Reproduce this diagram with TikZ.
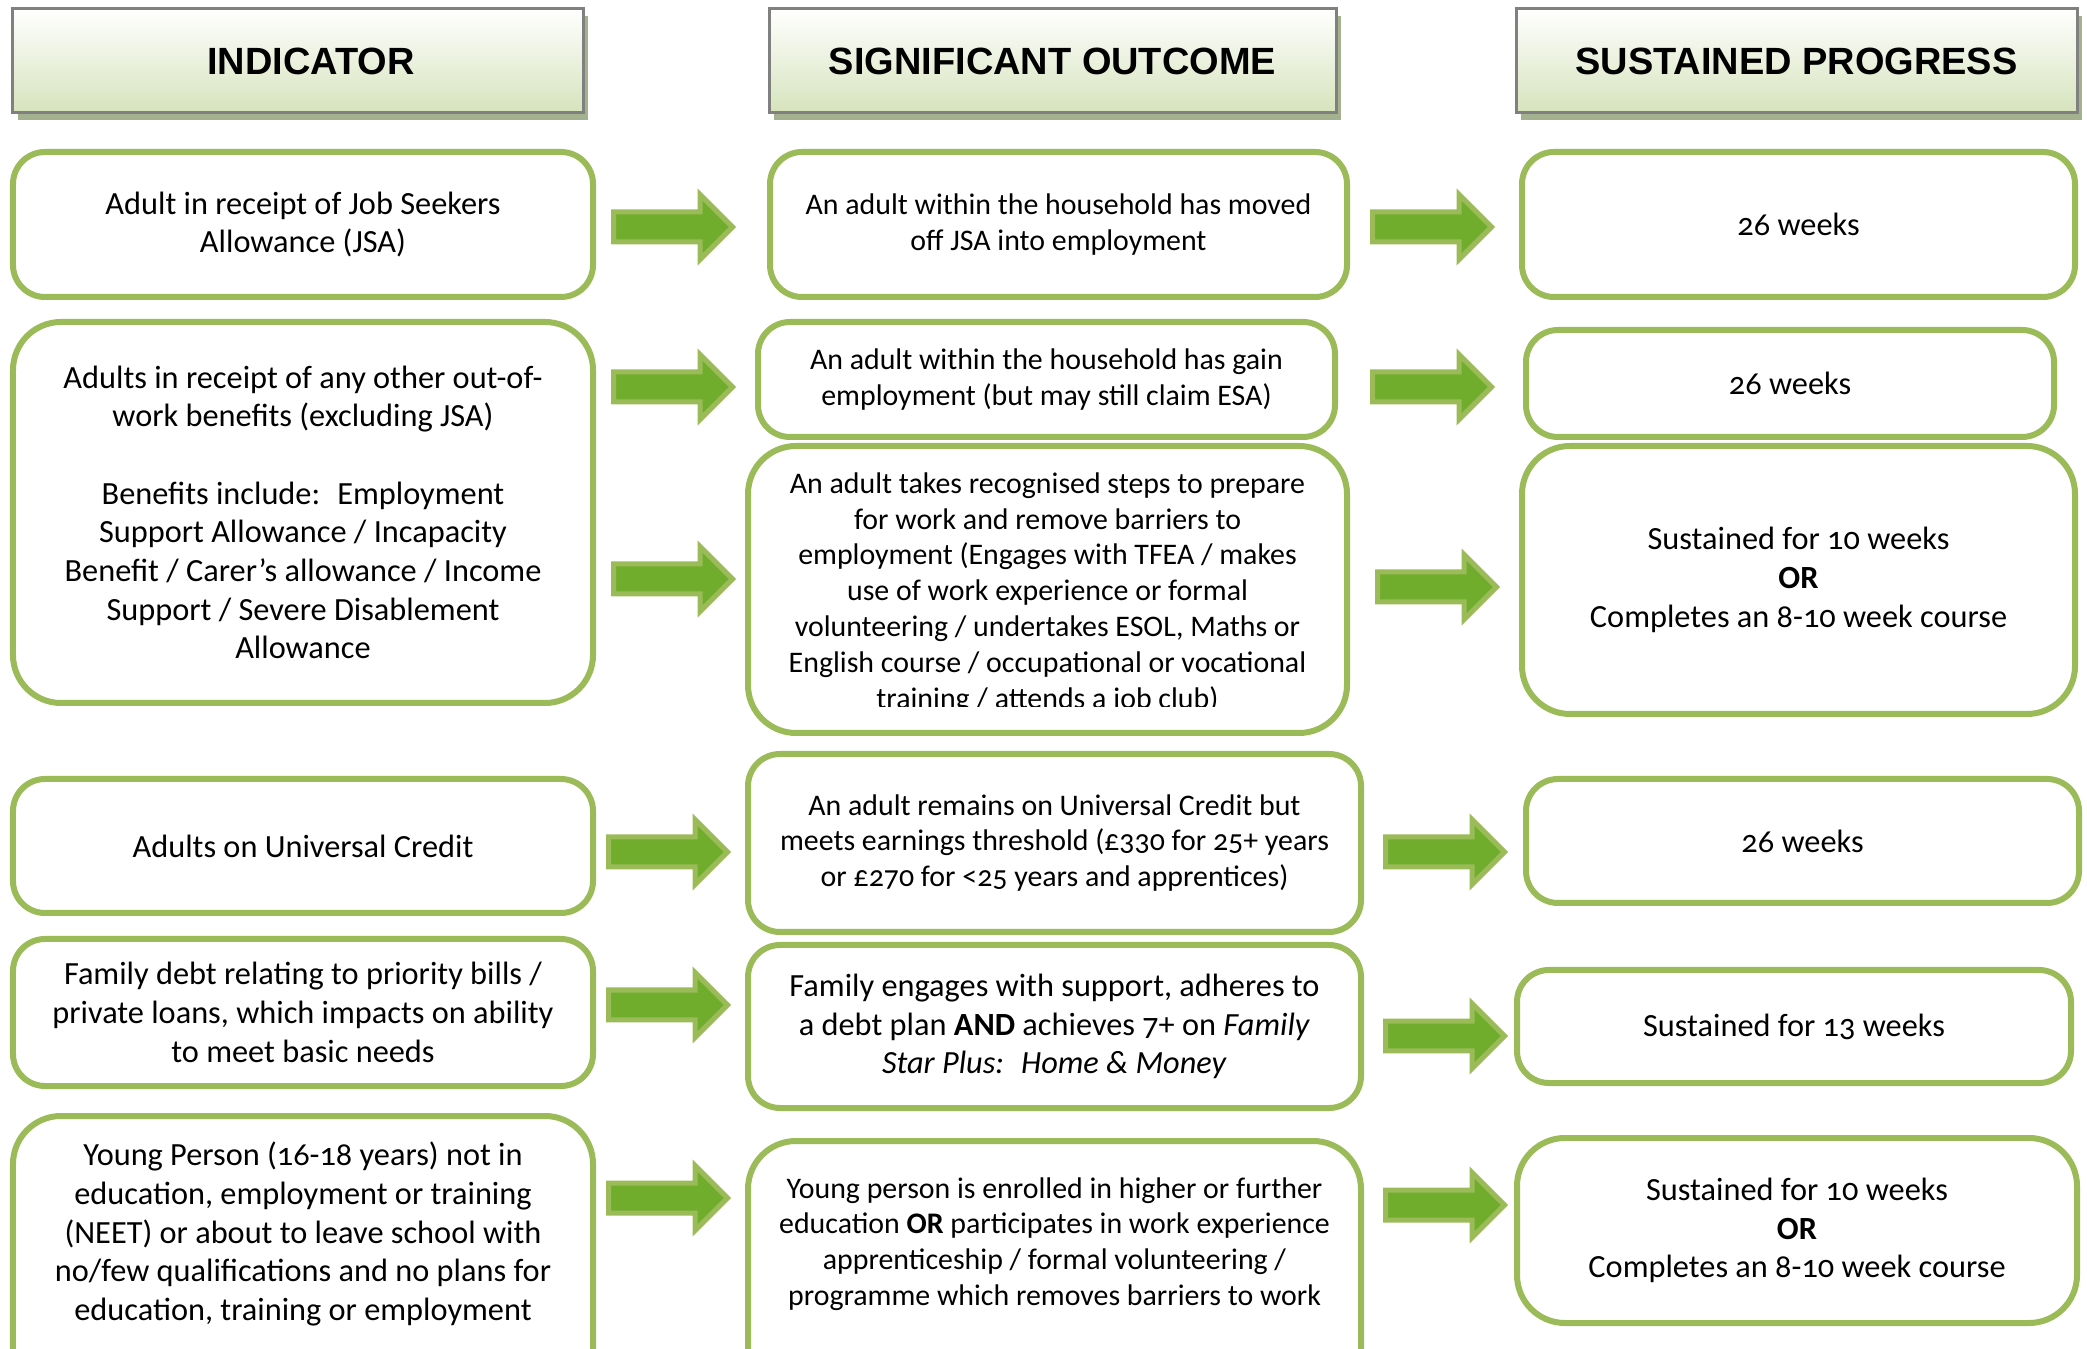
\documentclass[tikz,border=0pt]{standalone}
\usepackage{fontspec}
\setmainfont{Carlito}[Numbers=OldStyle]
\newfontfamily\headfont{Liberation Sans}
\usetikzlibrary{shadows}

\definecolor{boxgreen}{RGB}{155,187,89}
\definecolor{arrowgreen}{RGB}{112,173,45}
\definecolor{headgreen}{RGB}{214,227,188}
\definecolor{headgray}{RGB}{128,128,128}
\definecolor{shadowgreen}{RGB}{163,177,143}

\tikzset{
	headbox/.style={draw=headgray, line width=0.03cm, top color=white, bottom color=headgreen,
		drop shadow={shadow xshift=0.05cm, shadow yshift=-0.07cm, fill=shadowgreen, opacity=1},
		minimum height=1.04cm, inner sep=0pt, font=\headfont\bfseries\fontsize{10.8}{13}\selectfont},
	card/.style={draw=boxgreen, line width=0.06cm, fill=white, rounded corners=0.32cm,
		align=center, inner sep=0pt},
	bigcard/.style={card, rounded corners=0.48cm},
	bigtext/.style={align=center, inner sep=0pt, font=\fontsize{9.2}{11}\selectfont},
	smalltext/.style={align=center, inner sep=0pt, font=\fontsize{8.5}{10.2}\selectfont},
	arrowfill/.style={draw=boxgreen, fill=arrowgreen, line width=0.05cm, line join=miter}
}

\begin{document}
\begin{tikzpicture}[x=1cm, y=-1cm]

	\def\greenArrow#1#2{
		\draw[arrowfill] (#1+0.025,#2-0.15) -- ++(0.865,0) -- ++(0,-0.175) -- ++(0.325,0.325)
			-- ++(-0.325,0.325) -- ++(0,-0.175) -- ++(-0.865,0) -- cycle;
	}

	\useasboundingbox (0,0) rectangle (20.87,13.49);
	\clip (0,0) rectangle (20.87,13.49);

	% column heads
	\node[headbox, minimum width=5.70cm] (hind) at (2.98,0.61) {\hspace*{0.26cm}INDICATOR};
	\node[headbox, minimum width=5.67cm] (hout) at (10.525,0.61) {SIGNIFICANT OUTCOME};
	\node[headbox, minimum width=5.61cm] (hpro) at (17.965,0.61) {SUSTAINED PROGRESS};

	% indicators
	\node[card, bigtext, minimum width=5.80cm, minimum height=1.45cm] (jsa) at (3.03,2.245)
		{Adult in receipt of Job Seekers\\Allowance (JSA)};
	\node[bigcard, bigtext, minimum width=5.80cm, minimum height=3.81cm] (outwork) at (3.03,5.125)
		{Adults in receipt of any other out-of-\\work benefits (excluding JSA)\\[11pt]
		Benefits include:~ Employment\\Support Allowance / Incapacity\\Benefit / Carer’s allowance / Income\\
		Support / Severe Disablement\\Allowance};
	\node[card, bigtext, minimum width=5.80cm, minimum height=1.34cm] (uc) at (3.03,8.46)
		{Adults on Universal Credit};
	\node[card, bigtext, minimum width=5.80cm, minimum height=1.47cm] (debt) at (3.03,10.125)
		{Family debt relating to priority bills /\\private loans, which impacts on ability\\to meet basic needs};
	\node[bigcard, minimum width=5.80cm, minimum height=3.2cm, anchor=north] (neet) at (3.03,11.13) {};
	\node[bigtext] (neettxt) at (3.03,12.34)
		{Young Person (16-18 years) not in\\education, employment or training\\(NEET) or about to leave school with\\
		no/few qualifications and no plans for\\education, training or employment};

	% significant outcomes
	\node[card, smalltext, minimum width=5.77cm, minimum height=1.45cm] (offjsa) at (10.585,2.245)
		{An adult within the household has moved\\off JSA into employment};
	\node[card, smalltext, minimum width=5.77cm, minimum height=1.15cm] (gain) at (10.465,3.795)
		{An adult within the household has gain\\employment (but may still claim ESA)};
	\node[bigcard, minimum width=5.99cm, minimum height=2.87cm] (steps) at (10.475,5.895) {};
	\begin{scope}
		\clip (7.5,4.5) rectangle (13.45,7.07);
		\node[smalltext] (stepstxt) at (10.475,5.93)
			{An adult takes recognised steps to prepare\\for work and remove barriers to\\
			employment (Engages with TFEA / makes\\use of work experience or formal\\
			volunteering / undertakes ESOL, Maths or\\English course / occupational or vocational\\
			training / attends a job club)};
	\end{scope}
	\node[card, smalltext, minimum width=6.13cm, minimum height=1.78cm] (earn) at (10.545,8.43)
		{An adult remains on Universal Credit but\\meets earnings threshold (£330 for 25+ years\\
		or £270 for <25 years and apprentices)};
	\node[card, bigtext, minimum width=6.13cm, minimum height=1.63cm] (plan) at (10.545,10.265)
		{Family engages with support, adheres to\\a debt plan \textbf{AND} achieves 7+ on \textit{Family}\\
		\textit{Star Plus:~ Home \& Money}};
	\node[bigcard, minimum width=6.13cm, minimum height=3.0cm, anchor=north] (enrol) at (10.545,11.38) {};
	\node[smalltext] (enroltxt) at (10.545,12.44)
		{Young person is enrolled in higher or further\\education \textbf{OR} participates in work experience\\
		apprenticeship / formal volunteering /\\programme which removes barriers to work};

	% sustained progress
	\node[card, bigtext, minimum width=5.53cm, minimum height=1.45cm] (wk1) at (17.985,2.245) {26 weeks};
	\node[card, bigtext, minimum width=5.28cm, minimum height=1.07cm] (wk2) at (17.90,3.835) {26 weeks};
	\node[bigcard, bigtext, minimum width=5.53cm, minimum height=2.68cm] (course1) at (17.985,5.80)
		{Sustained for 10 weeks\\\textbf{OR}\\Completes an 8-10 week course};
	\node[card, bigtext, minimum width=5.53cm, minimum height=1.24cm] (wk3) at (18.025,8.41) {26 weeks};
	\node[card, bigtext, minimum width=5.54cm, minimum height=1.13cm] (wk13) at (17.94,10.265)
		{Sustained for 13 weeks};
	\node[bigcard, bigtext, minimum width=5.60cm, minimum height=1.85cm] (course2) at (17.97,12.305)
		{Sustained for 10 weeks\\\textbf{OR}\\Completes an 8-10 week course};

	% arrows
	\greenArrow{6.11}{2.27};
	\greenArrow{13.70}{2.27};
	\greenArrow{6.11}{3.87};
	\greenArrow{13.70}{3.87};
	\greenArrow{6.11}{5.79};
	\greenArrow{13.75}{5.87};
	\greenArrow{6.06}{8.52};
	\greenArrow{13.83}{8.52};
	\greenArrow{6.06}{10.05};
	\greenArrow{13.83}{10.36};
	\greenArrow{6.06}{11.98};
	\greenArrow{13.83}{12.05};

\end{tikzpicture}
\end{document}
